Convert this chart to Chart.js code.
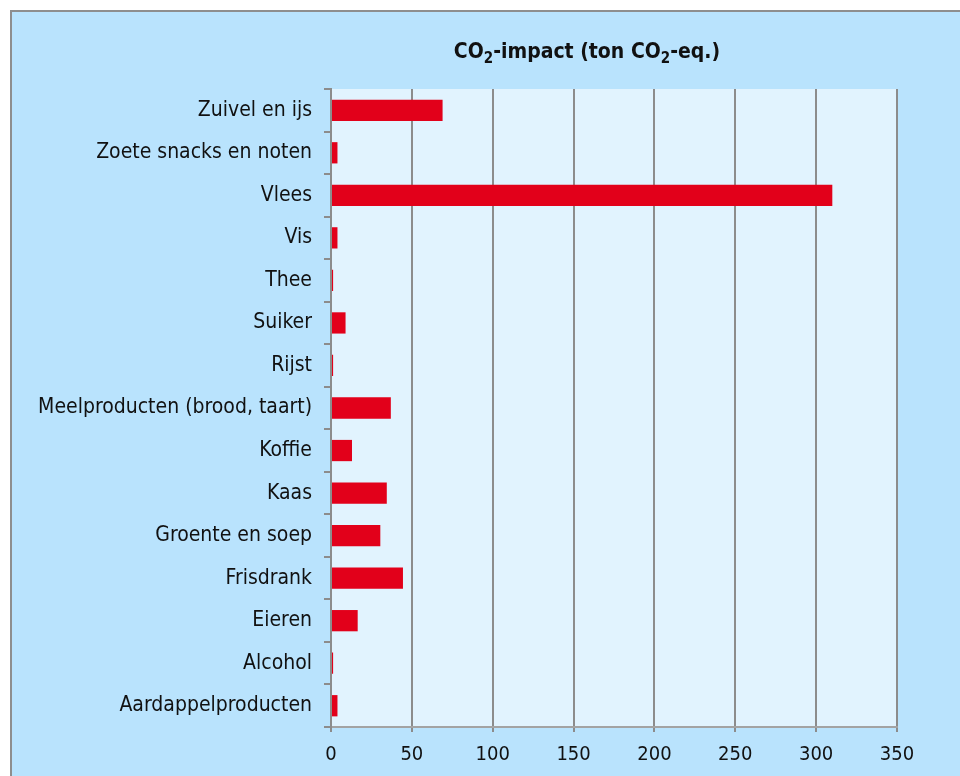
<!DOCTYPE html>
<html>
<head>
<meta charset="utf-8">
<script src="https://cdn.jsdelivr.net/npm/chart.js@4/dist/chart.umd.min.js"></script>
<style>
  html, body { margin: 0; padding: 0; background: #fff; width: 960px; height: 776px; overflow: hidden; }
  #box { position: absolute; left: 10px; top: 10px; width: 950px; height: 766px;
         border-top: 2px solid #8e8e8e; border-left: 2px solid #8e8e8e; background: #b9e3fd; box-sizing: border-box; }
  #wrap { position: absolute; left: 0; top: 0; width: 960px; height: 776px; }
</style>
</head>
<body>
<div id="box"></div>
<div id="wrap"><canvas id="chart"></canvas></div>
<script>
// data
var categories = ["Zuivel en ijs", "Zoete snacks en noten", "Vlees", "Vis", "Thee", "Suiker", "Rijst",
    "Meelproducten (brood, taart)", "Koffie", "Kaas", "Groente en soep", "Frisdrank", "Eieren",
    "Alcohol", "Aardappelproducten"];
var co2Values = [69, 4, 310, 4, 1.3, 9, 1.3, 37, 13, 34.5, 30.5, 44.5, 16.5, 1.3, 4];
var xTicks = [0, 50, 100, 150, 200, 250, 300, 350];
// title pieces, "sub" ones are drawn as subscript
var titleParts = [
    { text: "CO" }, { text: "2", sub: true }, { text: "-impact (ton CO" },
    { text: "2", sub: true }, { text: "-eq.)" }
];

var fontFamily = '"DejaVu Sans Condensed", "DejaVu Sans", sans-serif';

//plot area background + title
var plotBg = {
    id: "plotBg",
    beforeDraw: function (chart) {
        var a = chart.chartArea, c = chart.ctx;
        c.save();
        c.fillStyle = "#e1f3fe";
        c.fillRect(a.left, a.top, a.right - a.left, a.bottom - a.top);
        c.restore();
    },
    afterDraw: function (chart) {
        var c = chart.ctx;
        var big = "bold 21px " + fontFamily, small = "bold 15px " + fontFamily;
        c.save();
        c.fillStyle = "#111";
        c.textAlign = "left";
        c.textBaseline = "alphabetic";
        var total = 0;
        titleParts.forEach(function (p) {
            c.font = p.sub ? small : big;
            total += c.measureText(p.text).width;
        });
        var x = 587 - total / 2, base = 58;
        titleParts.forEach(function (p) {
            c.font = p.sub ? small : big;
            c.fillText(p.text, x, p.sub ? base + 5 : base);
            x += c.measureText(p.text).width;
        });
        c.restore();
    }
};

var ctx = document.getElementById("chart");
var chart = new Chart(ctx, {
    type: "bar",
    data: {
        labels: categories,
        datasets: [{
            data: co2Values,
            backgroundColor: "#e2001a",
            borderWidth: 0,
            barPercentage: 0.5,
            categoryPercentage: 1
        }]
    },
    options: {
        indexAxis: "y",
        responsive: true,
        maintainAspectRatio: false,
        animation: false,
        layout: { padding: { left: 0, right: 63, top: 89, bottom: 0 } },
        plugins: {
            legend: { display: false },
            tooltip: { enabled: false }
        },
        scales: {
            x: {
                min: 0,
                max: 350,
                afterBuildTicks: function (axis) {
                    axis.ticks = xTicks.map(function (v) { return { value: v }; });
                },
                afterFit: function (axis) { axis.height = 49; },
                grid: { color: "#8c8c8c", lineWidth: 2, tickLength: 5, drawTicks: true },
                border: { color: "#a3a3a3", width: 2 },
                ticks: { color: "#111", padding: 11, font: { family: fontFamily, size: 20 } }
            },
            y: {
                afterFit: function (axis) { axis.width = 331; },
                grid: { drawOnChartArea: false, drawTicks: true, tickLength: 7, color: "#8c8c8c", lineWidth: 2 },
                border: { color: "#8c8c8c", width: 2 },
                ticks: { color: "#111", padding: 12, font: { family: fontFamily, size: 21 } }
            }
        }
    },
    plugins: [plotBg]
});
</script>
</body>
</html>
